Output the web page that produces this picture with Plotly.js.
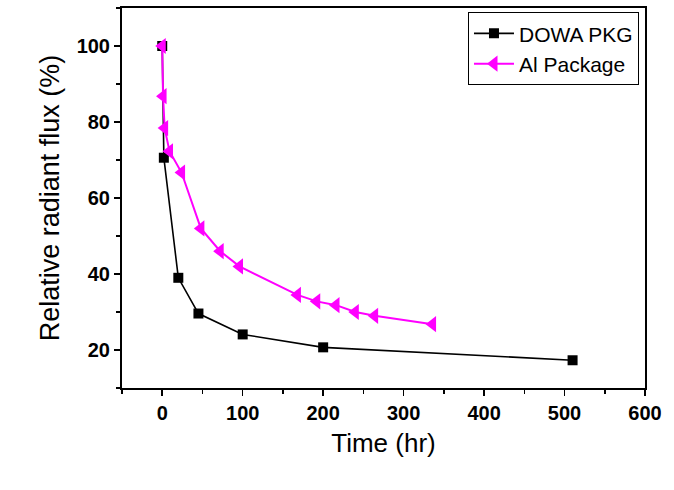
<!DOCTYPE html>
<html>
<head>
<meta charset="utf-8">
<script src="https://cdn.plot.ly/plotly-3.0.1.min.js"></script>
<style>html,body{margin:0;padding:0;background:#fff;}#chart{width:674px;height:490px;}</style>
</head>
<body>
<div id="chart"></div>
<script>
// Data
const dowaTime = [0, 2, 20, 45, 100, 200, 510];
const dowaFlux = [100, 70.6, 39.0, 29.6, 24.1, 20.7, 17.3];
const alTime = [0, 1, 3, 9, 24, 48, 72, 96, 168, 192, 216, 240, 264, 336];
const alFlux = [100, 86.8, 78.4, 72.3, 66.7, 52.0, 46.0, 42.0, 34.5, 32.8, 31.8, 30.0, 29.0, 26.8];
const seriesNames = ["DOWA PKG", "Al Package"];
const xTitle = "Time (hr)";
const yTitle = "Relative radiant flux (%)";

const FONT = "'Liberation Sans', Arial, sans-serif";

const traces = [
  {
    x: dowaTime, y: dowaFlux, name: seriesNames[0], type: "scatter", mode: "lines+markers",
    line: {color: "#000000", width: 1.6},
    marker: {symbol: "square", size: 10, color: "#000000"}
  },
  {
    x: alTime, y: alFlux, name: seriesNames[1], type: "scatter", mode: "lines+markers",
    line: {color: "#ff00ff", width: 2},
    marker: {symbol: "triangle-left", size: 14, color: "#ff00ff"}
  }
];

const axisCommon = {
  showline: true, linecolor: "#000", linewidth: 2, mirror: true,
  ticks: "outside", tickcolor: "#000", tickwidth: 1.5, ticklen: 6,
  showgrid: false, zeroline: false,
  tickfont: {family: FONT, size: 20, color: "#000", weight: "bold"}
};

const layout = {
  width: 674, height: 490,
  margin: {l: 122, r: 29, t: 8, b: 102},
  paper_bgcolor: "#fff", plot_bgcolor: "#fff",
  font: {family: FONT, color: "#000"},
  xaxis: Object.assign({}, axisCommon, {
    range: [-50, 600], dtick: 100, tick0: 0,
    minor: {ticks: "outside", dtick: 50, ticklen: 4, tickcolor: "#000", tickwidth: 1.5},
    title: {text: xTitle, font: {family: FONT, size: 26, color: "#000"}, standoff: 11}
  }),
  yaxis: Object.assign({}, axisCommon, {
    range: [10, 110], dtick: 20, tick0: 0,
    minor: {ticks: "outside", dtick: 10, ticklen: 4, tickcolor: "#000", tickwidth: 1.5},
    title: {text: yTitle, font: {family: FONT, size: 27, color: "#000"}, standoff: 9}
  }),
  showlegend: true,
  legend: {
    x: 0.9885, xanchor: "right", y: 0.989, yanchor: "top",
    bgcolor: "#fff", bordercolor: "#000", borderwidth: 1,
    font: {family: FONT, size: 21, color: "#000"},
    tracegroupgap: 0, itemwidth: 40
  }
};

Plotly.newPlot("chart", traces, layout, {displayModeBar: false, staticPlot: true});
</script>
</body>
</html>
